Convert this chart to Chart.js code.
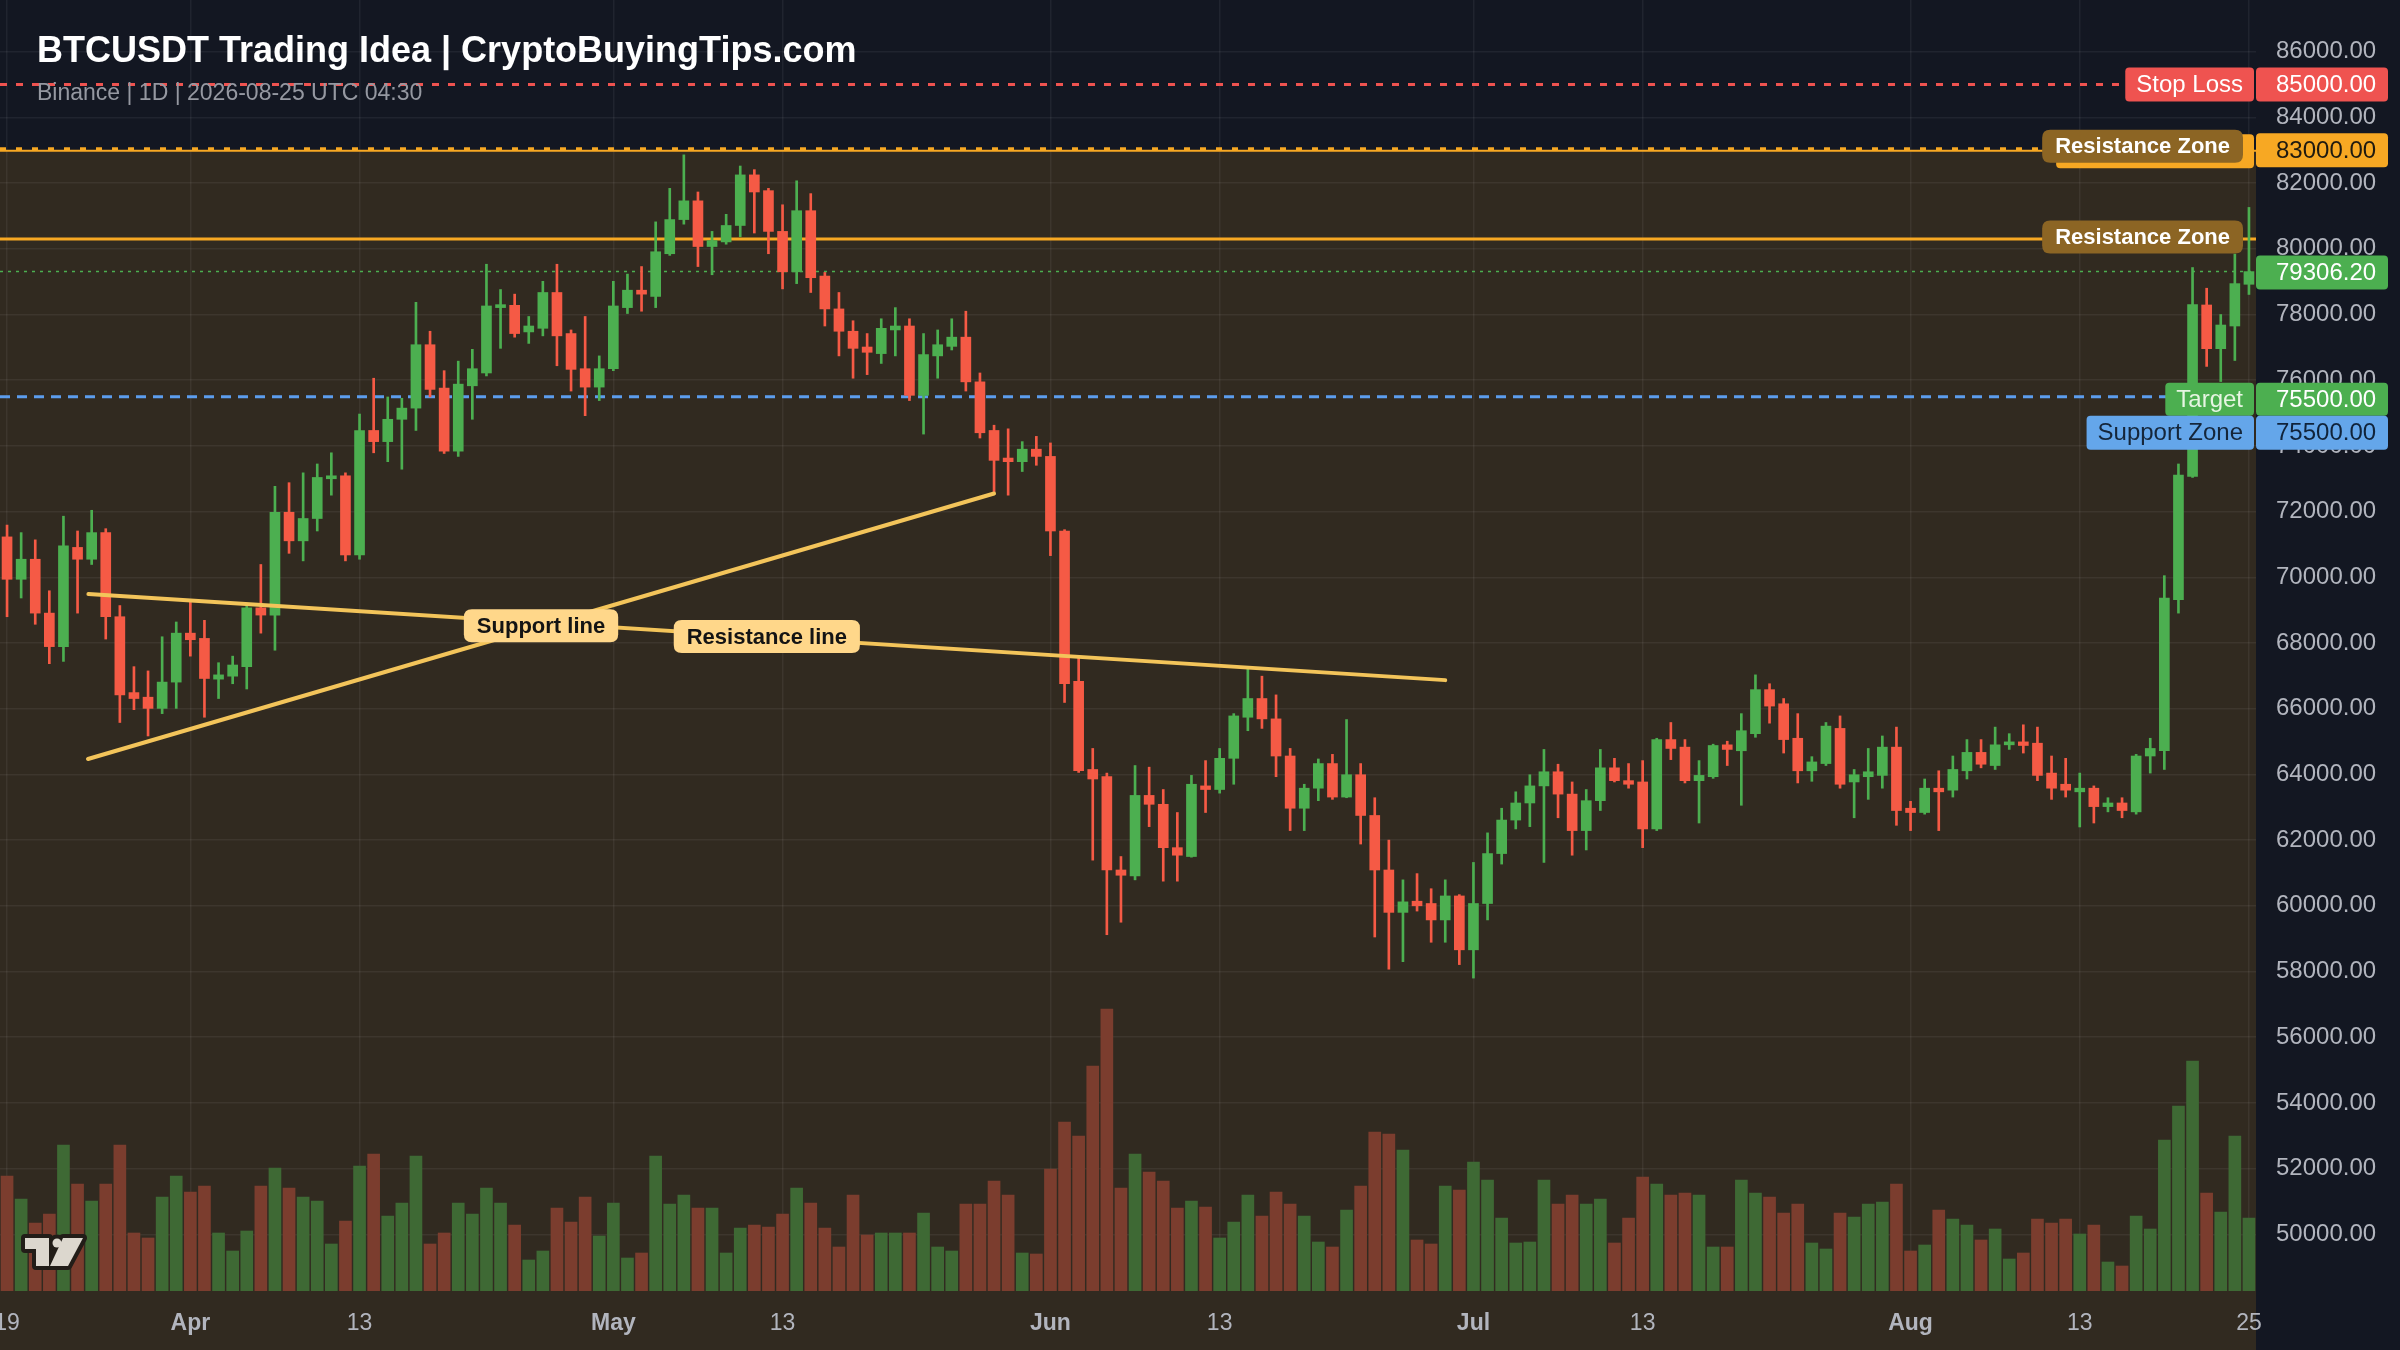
<!DOCTYPE html>
<html>
<head>
<meta charset="utf-8">
<title>BTCUSDT Trading Idea</title>
<script src="https://cdn.jsdelivr.net/npm/chart.js@4.4.1/dist/chart.umd.min.js"></script>
<style>
  html, body { margin: 0; padding: 0; background: #131722; }
  #wrap { width: 2400px; height: 1350px; }
</style>
</head>
<body>
<div id="wrap"><canvas id="btcChart" width="2400" height="1350"></canvas></div>
<script>
// daily BTCUSDT candles, 2026-03-19 .. 2026-08-25
const startDate = '2026-03-19';
const monthNames = ['Jan', 'Feb', 'Mar', 'Apr', 'May', 'Jun', 'Jul', 'Aug', 'Sep', 'Oct', 'Nov', 'Dec'];

const opens = [
    71230, 69940, 70550, 68910, 67890, 70910, 70550, 71360, 68800, 66490,
    66350, 66010, 66810, 68300, 68140, 66900, 66990, 67280, 69070, 68850,
    71980, 71110, 71790, 73000, 73090, 70680, 74470, 74130, 74810, 75150,
    77080, 75760, 73840, 75830, 76220, 78210, 78280, 77470, 77580, 78670,
    77420, 76350, 75790, 76350, 78210, 78740, 78550, 79850, 80890, 81460,
    80070, 80210, 80710, 82250, 81770, 80530, 79300, 81160, 79170, 78170,
    77490, 77010, 76810, 77530, 77650, 75540, 76740, 77030, 77310, 75950,
    74470, 73630, 73520, 73900, 73680, 71410, 66830, 64150, 63930, 61090,
    60910, 63360, 63090, 61770, 61500, 63650, 63540, 64490, 65740, 66310,
    65690, 64560, 62970, 63580, 64330, 63310, 63990, 62750, 61090, 59800,
    60140, 60070, 59570, 60300, 58660, 60070, 61590, 62610, 63130, 63650,
    64080, 63400, 62290, 63200, 64200, 63810, 63770, 62340, 65060, 64830,
    63810, 63930, 64900, 64720, 65240, 66580, 66150, 65100, 64110, 64330,
    65400, 63770, 63930, 63970, 64830, 62970, 62840, 63580, 63520, 64110,
    64670, 64270, 64900, 64990, 64950, 64040, 63700, 63470, 63580, 63020,
    63130, 62860, 64560, 64720, 69320, 73070, 78290, 76960, 77650, 78920
];
const highs = [
    71590, 71360, 71140, 69590, 71860, 71410, 72040, 71480, 69140, 67280,
    67150, 68190, 68640, 69260, 68690, 67400, 67600, 69190, 70390, 72770,
    72880, 73180, 73450, 73790, 73180, 74970, 76060, 75490, 75450, 78370,
    77490, 76290, 76580, 76940, 79530, 78760, 78620, 77940, 79010, 79530,
    77530, 77940, 76740, 79010, 79230, 79460, 80820, 81840, 82860, 81730,
    80530, 81050, 82520, 82410, 81840, 81340, 82070, 81680, 79280, 78670,
    77810, 77420, 77870, 78210, 77870, 77420, 77530, 77870, 78100, 76220,
    74630, 74520, 74130, 74290, 74090, 71450, 67550, 64790, 64040, 61500,
    64270, 64220, 63540, 62840, 63970, 64420, 64790, 65850, 67280, 66990,
    66420, 64790, 63700, 64470, 64610, 65670, 64330, 63290, 62000, 60790,
    60980, 60520, 60790, 60340, 61320, 62220, 62970, 63470, 63990, 64760,
    64310, 63770, 63540, 64760, 64490, 64330, 64420, 65100, 65580, 65060,
    64420, 64920, 65010, 65850, 67030, 66760, 66310, 65850, 64540, 65580,
    65780, 64150, 64790, 65170, 65440, 63180, 63860, 64110, 64560, 65060,
    65060, 65440, 65240, 65510, 65440, 64560, 64490, 64040, 63650, 63290,
    63290, 64610, 65100, 70050, 73450, 79430, 78800, 78000, 79840, 81260
];
const lows = [
    68800, 69370, 68570, 67370, 67440, 68910, 70390, 68120, 65580, 65970,
    65170, 65850, 66010, 67600, 65740, 66310, 66760, 66600, 68300, 67780,
    70730, 70500, 71410, 72500, 70500, 70550, 73790, 73520, 73290, 74470,
    75490, 73770, 73680, 74810, 76130, 76970, 77310, 77120, 77350, 76440,
    75670, 74920, 75380, 76290, 78030, 78100, 78210, 79800, 80750, 79460,
    79210, 80140, 80370, 80480, 79850, 78780, 78940, 78670, 77650, 76740,
    76060, 76170, 76510, 76740, 75380, 74360, 76060, 76920, 75670, 74240,
    72610, 72500, 73220, 73410, 70660, 66190, 64060, 61390, 59120, 59500,
    60790, 62410, 60750, 60750, 61480, 62840, 63430, 63700, 65330, 65400,
    63930, 62290, 62290, 63200, 63240, 63290, 61880, 59050, 58070, 58300,
    59840, 58890, 58890, 58210, 57800, 59570, 61270, 62340, 62410, 61320,
    62680, 61540, 61700, 62900, 63770, 63580, 61770, 62290, 64450, 63740,
    62520, 63880, 64270, 63060, 65130, 65560, 64650, 63740, 63790, 64270,
    63580, 62680, 63240, 63580, 62450, 62290, 62790, 62290, 63310, 63860,
    64200, 64150, 64760, 64650, 63810, 63240, 63310, 62400, 62520, 62860,
    62680, 62790, 64040, 64150, 68910, 73040, 76420, 75960, 76600, 78610
];
const closes = [
    69940, 70550, 68910, 67890, 70960, 70550, 71360, 68800, 66420, 66310,
    66010, 66810, 68300, 68100, 66920, 67030, 67330, 69070, 68850, 71980,
    71110, 71790, 73040, 73090, 70680, 74470, 74130, 74810, 75150, 77080,
    75720, 73840, 75880, 76350, 78260, 78300, 77420, 77650, 78670, 77350,
    76330, 75790, 76350, 78260, 78740, 78620, 79910, 80890, 81460, 80070,
    80250, 80710, 82250, 81730, 80530, 79300, 81160, 79120, 78170, 77490,
    76970, 76850, 77580, 77650, 75540, 76780, 77080, 77310, 75950, 74400,
    73560, 73520, 73900, 73680, 71410, 66760, 64110, 63860, 61090, 60930,
    63360, 63090, 61770, 61540, 63700, 63540, 64490, 65780, 66310, 65690,
    64560, 62970, 63580, 64330, 63310, 63990, 62750, 61090, 59800, 60120,
    60000, 59570, 60300, 58660, 60070, 61590, 62610, 63130, 63650, 64080,
    63400, 62290, 63200, 64200, 63810, 63700, 62340, 65060, 64790, 63810,
    63970, 64880, 64760, 65330, 66580, 66080, 65060, 64110, 64380, 65470,
    63700, 63990, 64080, 64830, 62900, 62840, 63580, 63470, 64150, 64670,
    64310, 64900, 64990, 64880, 63970, 63580, 63520, 63580, 63020, 63130,
    62900, 64560, 64790, 69370, 73110, 78300, 76960, 77680, 78940, 79306.2
];
// volume, relative units
const volumes = [
    115, 92, 68, 77, 146, 107, 90, 107, 146, 58, 53, 94, 115, 99, 105, 58, 40, 60, 105, 123,
    103, 94, 90, 47, 70, 125, 137, 75, 88, 135, 47, 58, 88, 77, 103, 88, 66, 31, 40, 83,
    69, 94, 55, 88, 33, 38, 135, 87, 96, 83, 83, 38, 63, 66, 64, 77, 103, 88, 63, 44,
    96, 56, 58, 58, 58, 78, 44, 40, 87, 87, 110, 96, 38, 37, 122, 169, 155, 225, 282, 103,
    137, 119, 110, 83, 90, 84, 53, 69, 96, 75, 99, 87, 75, 49, 44, 81, 105, 159, 157, 141,
    51, 47, 105, 101, 129, 111, 73, 48, 49, 111, 87, 96, 87, 92, 48, 73, 114, 107, 96, 98,
    96, 44, 44, 111, 98, 94, 78, 87, 48, 42, 78, 74, 87, 89, 107, 40, 46, 81, 72, 66,
    51, 62, 32, 38, 72, 68, 72, 57, 66, 29, 25, 75, 62, 151, 185, 230, 98, 79, 155, 73
];
const volumeAxisMax = 1291;

// trade levels
const stopLoss = 85000;
const resistanceTop = 83000;
const resistanceLow = 80300;
const lastPrice = 79306.2;
const targetPrice = 75500;
const supportZone = 75500;

// drawn trend lines: [candle index, price]
const supportLine = [[5.74, 64470], [70, 72550]];
const resistanceLine = [[5.77, 69490], [102, 66870]];

// axes
const priceTicks = [50000, 52000, 54000, 56000, 58000, 60000, 62000, 64000, 66000, 68000,
    70000, 72000, 74000, 76000, 78000, 80000, 82000, 84000, 86000];
const priceMin = 48274;
const priceMax = 87574;
const xTickIdx = [0, 13, 25, 43, 55, 74, 86, 104, 116, 135, 147, 159];

const dates = [];
for (let i = 0; i < opens.length; i++) {
    const d = new Date(startDate + 'T00:00:00Z');
    d.setUTCDate(d.getUTCDate() + i);
    dates.push(d);
}

function tickLabel(i) {
    const d = dates[i];
    if (!d) return '';
    return d.getUTCDate() === 1 ? monthNames[d.getUTCMonth()] : String(d.getUTCDate());
}

const FONT = '"Liberation Sans", Arial, Helvetica, sans-serif';
const C = {
    navy: '#131722',
    brown: '#312a20',
    grid: 'rgba(255,255,255,0.06)',
    axisText: '#b2b5be',
    green: '#4caf50',
    red: '#f55a45',
    volGreen: '#3e6934',
    volRed: '#7b3d2e',
    stop: '#ef5350',
    orange: '#f7a823',
    gold: '#8c6524',
    blue: '#5c9ded',
    blueTag: '#64a6ea',
    trend: '#f3c45a',
    trendTag: '#ffd78a'
};

function rr(ctx, x, y, w, h, r) {
    ctx.beginPath();
    ctx.moveTo(x + r, y);
    ctx.lineTo(x + w - r, y);
    ctx.quadraticCurveTo(x + w, y, x + w, y + r);
    ctx.lineTo(x + w, y + h - r);
    ctx.quadraticCurveTo(x + w, y + h, x + w - r, y + h);
    ctx.lineTo(x + r, y + h);
    ctx.quadraticCurveTo(x, y + h, x, y + h - r);
    ctx.lineTo(x, y + r);
    ctx.quadraticCurveTo(x, y, x + r, y);
    ctx.closePath();
}

function hline(ctx, x0, x1, y, color, width, dash) {
    ctx.beginPath();
    ctx.setLineDash(dash);
    ctx.strokeStyle = color;
    ctx.lineWidth = width;
    ctx.moveTo(x0, y);
    ctx.lineTo(x1, y);
    ctx.stroke();
    ctx.setLineDash([]);
}

// label box anchored by its right edge
function tag(ctx, text, right, top, h, o) {
    ctx.font = o.font;
    const w = ctx.measureText(text).width + o.pad * 2;
    rr(ctx, right - w, top, w, h, o.radius);
    ctx.fillStyle = o.fill;
    ctx.fill();
    ctx.fillStyle = o.color;
    ctx.textAlign = 'center';
    ctx.textBaseline = 'middle';
    ctx.fillText(text, right - w / 2, top + h / 2 + 1);
    return right - w;
}

function axisBox(ctx, text, left, width, top, h, fill, color) {
    rr(ctx, left, top, width, h, 4);
    ctx.fillStyle = fill;
    ctx.fill();
    ctx.font = '24px ' + FONT;
    ctx.fillStyle = color;
    ctx.textAlign = 'left';
    ctx.textBaseline = 'middle';
    ctx.fillText(text, left + 20, top + h / 2 + 1);
}

function drawLogo(ctx, x, y) {
    ctx.save();
    ctx.translate(x, y);
    const shapes = [
        [[0, 0], [24, 0], [24, 28], [11, 28], [11, 11], [0, 11]],
        [[38, 0], [58, 0], [43, 28], [25, 28]]
    ];
    ctx.lineJoin = 'round';
    ctx.strokeStyle = '#221d18';
    ctx.lineWidth = 8;
    shapes.forEach(s => {
        ctx.beginPath();
        s.forEach((p, k) => k ? ctx.lineTo(p[0], p[1]) : ctx.moveTo(p[0], p[1]));
        ctx.closePath();
        ctx.stroke();
    });
    ctx.beginPath();
    ctx.arc(32, 5, 4.5, 0, Math.PI * 2);
    ctx.stroke();
    ctx.fillStyle = '#dcd7ce';
    shapes.forEach(s => {
        ctx.beginPath();
        s.forEach((p, k) => k ? ctx.lineTo(p[0], p[1]) : ctx.moveTo(p[0], p[1]));
        ctx.closePath();
        ctx.fill();
    });
    ctx.beginPath();
    ctx.arc(32, 5, 4.5, 0, Math.PI * 2);
    ctx.fill();
    ctx.restore();
}

const tradingPlugin = {
    id: 'tradingIdea',
    beforeDraw(chart) {
        const { ctx, chartArea: a, scales: { y } } = chart;
        ctx.save();
        ctx.fillStyle = C.navy;
        ctx.fillRect(0, 0, chart.width, chart.height);
        const zoneTop = y.getPixelForValue(resistanceTop);
        ctx.fillStyle = C.brown;
        ctx.fillRect(0, zoneTop, a.right, chart.height - zoneTop);
        ctx.restore();
    },
    beforeDatasetsDraw(chart) {
        const { ctx, chartArea: a, scales: { y } } = chart;
        ctx.save();
        hline(ctx, a.left, a.right, y.getPixelForValue(stopLoss), C.stop, 3, [7, 9]);
        const yr = y.getPixelForValue(resistanceTop);
        hline(ctx, a.left, a.right, yr + 0.5, C.orange, 2, []);
        hline(ctx, a.left, a.right, yr - 1.5, C.orange, 3, [6, 10]);
        hline(ctx, a.left, a.right, y.getPixelForValue(resistanceLow), C.orange, 3, []);
        hline(ctx, a.left, a.right, y.getPixelForValue(lastPrice), C.green, 1.5, [3, 5]);
        hline(ctx, a.left, a.right, y.getPixelForValue(targetPrice), C.blue, 3, [10, 7]);
        ctx.restore();
    },
    afterDatasetsDraw(chart) {
        const { ctx, chartArea: a, scales: { x, y } } = chart;
        ctx.save();

        // captions on the drawn trend lines
        [[supportLine, 'Support line'], [resistanceLine, 'Resistance line']].forEach(([pts, text]) => {
            const mx = (x.getPixelForValue(pts[0][0]) + x.getPixelForValue(pts[1][0])) / 2;
            const my = (y.getPixelForValue(pts[0][1]) + y.getPixelForValue(pts[1][1])) / 2;
            ctx.font = 'bold 22px ' + FONT;
            const w = ctx.measureText(text).width + 26;
            tag(ctx, text, mx + w / 2, my - 17, 33,
                { font: 'bold 22px ' + FONT, pad: 13, fill: C.trendTag, color: '#141414', radius: 8 });
        });

        const R = a.right - 2;
        const AX = a.right;
        const AW = 132;

        // stop loss
        const ySL = y.getPixelForValue(stopLoss);
        tag(ctx, 'Stop Loss', R, ySL - 17, 34, { font: '24px ' + FONT, pad: 11, fill: C.stop, color: '#ffffff', radius: 4 });

        // upper resistance zone
        const yR1 = y.getPixelForValue(resistanceTop);
        ctx.font = 'bold 22px ' + FONT;
        const rzW = ctx.measureText('Resistance Zone').width + 26;
        rr(ctx, R - 11 - rzW + 14, yR1 - 16, rzW - 3, 34, 4);
        ctx.fillStyle = C.orange;
        ctx.fill();
        tag(ctx, 'Resistance Zone', R - 11, yR1 - 20.5, 33,
            { font: 'bold 22px ' + FONT, pad: 13, fill: C.gold, color: '#ffffff', radius: 8 });

        // lower resistance zone
        const yR2 = y.getPixelForValue(resistanceLow);
        tag(ctx, 'Resistance Zone', R - 11, yR2 - 18.5, 33,
            { font: 'bold 22px ' + FONT, pad: 13, fill: C.gold, color: '#ffffff', radius: 8 });

        // target / support zone
        const yT = y.getPixelForValue(targetPrice) - 14;
        tag(ctx, 'Target', R, yT, 33, { font: '24px ' + FONT, pad: 11, fill: C.green, color: '#e6f5e2', radius: 4 });
        tag(ctx, 'Support Zone', R, yT + 33, 34, { font: '24px ' + FONT, pad: 11, fill: C.blueTag, color: '#15263a', radius: 4 });

        // price boxes on the axis
        axisBox(ctx, stopLoss.toFixed(2), AX, AW, ySL - 17, 34, C.stop, '#ffffff');
        axisBox(ctx, resistanceTop.toFixed(2), AX, AW, yR1 - 17, 34, C.orange, '#1f1a10');
        axisBox(ctx, lastPrice.toFixed(2), AX, AW, y.getPixelForValue(lastPrice) - 16, 34, C.green, '#ffffff');
        axisBox(ctx, targetPrice.toFixed(2), AX, AW, yT, 33, C.green, '#ffffff');
        axisBox(ctx, supportZone.toFixed(2), AX, AW, yT + 33, 34, C.blueTag, '#10233a');

        // header
        ctx.textAlign = 'left';
        ctx.textBaseline = 'alphabetic';
        ctx.fillStyle = '#ffffff';
        ctx.font = 'bold 36px ' + FONT;
        ctx.fillText('BTCUSDT Trading Idea | CryptoBuyingTips.com', 37, 62);
        ctx.fillStyle = '#9598a1';
        ctx.font = '23px ' + FONT;
        ctx.fillText('Binance | 1D | 2026-08-25 UTC 04:30', 37, 100);

        drawLogo(ctx, 25, 1238);
        ctx.restore();
    }
};

const idx = opens.map((_, i) => i);
const isUp = idx.map(i => closes[i] >= opens[i]);
const candleColors = idx.map(i => isUp[i] ? C.green : C.red);
const volumeColors = idx.map(i => isUp[i] ? C.volGreen : C.volRed);

const ctx = document.getElementById('btcChart').getContext('2d');

new Chart(ctx, {
    type: 'bar',
    data: {
        datasets: [
            {
                type: 'line',
                label: 'Support line',
                data: supportLine.map(p => ({ x: p[0], y: p[1] })),
                borderColor: C.trend,
                borderWidth: 4,
                borderCapStyle: 'round',
                pointRadius: 0,
                yAxisID: 'y',
                order: 0
            },
            {
                type: 'line',
                label: 'Resistance line',
                data: resistanceLine.map(p => ({ x: p[0], y: p[1] })),
                borderColor: C.trend,
                borderWidth: 4,
                borderCapStyle: 'round',
                pointRadius: 0,
                yAxisID: 'y',
                order: 0
            },
            {
                label: 'Body',
                data: idx.map(i => ({ x: i, y: [opens[i], closes[i]] })),
                backgroundColor: candleColors,
                barThickness: 10,
                minBarLength: 2,
                grouped: false,
                borderWidth: 0,
                yAxisID: 'y',
                order: 1
            },
            {
                label: 'Wick',
                data: idx.map(i => ({ x: i, y: [lows[i], highs[i]] })),
                backgroundColor: candleColors,
                barThickness: 2,
                grouped: false,
                borderWidth: 0,
                yAxisID: 'y',
                order: 2
            },
            {
                label: 'Volume',
                data: idx.map(i => ({ x: i, y: volumes[i] })),
                backgroundColor: volumeColors,
                barThickness: 12,
                grouped: false,
                borderWidth: 0,
                yAxisID: 'vol',
                order: 3
            }
        ]
    },
    options: {
        responsive: false,
        devicePixelRatio: 1,
        animation: false,
        layout: { padding: 0 },
        plugins: {
            legend: { display: false },
            tooltip: { enabled: false }
        },
        scales: {
            x: {
                type: 'linear',
                min: -0.5,
                max: opens.length - 0.5,
                offset: false,
                border: { display: false },
                grid: { color: C.grid, lineWidth: 1.5, drawTicks: false, offset: false },
                ticks: {
                    autoSkip: false,
                    maxRotation: 0,
                    minRotation: 0,
                    padding: 19,
                    color: C.axisText,
                    font: (c) => ({
                        family: FONT,
                        size: 23,
                        weight: c.tick && dates[c.tick.value] && dates[c.tick.value].getUTCDate() === 1 ? 'bold' : 'normal'
                    }),
                    callback: (value) => tickLabel(value)
                },
                afterBuildTicks: (scale) => {
                    scale.ticks = xTickIdx.map(v => ({ value: v }));
                },
                afterFit: (scale) => {
                    scale.height = 59;
                    scale.paddingLeft = 0;
                    scale.paddingRight = 0;
                }
            },
            y: {
                type: 'linear',
                position: 'right',
                min: priceMin,
                max: priceMax,
                border: { display: false },
                grid: { color: C.grid, lineWidth: 1.5, drawTicks: false, tickLength: 0 },
                ticks: {
                    padding: 20,
                    color: C.axisText,
                    font: { family: FONT, size: 24 },
                    callback: (value) => Number(value).toFixed(2)
                },
                afterBuildTicks: (scale) => {
                    scale.ticks = priceTicks.map(v => ({ value: v }));
                },
                afterFit: (scale) => {
                    scale.width = 144;
                    scale.paddingTop = 0;
                    scale.paddingBottom = 0;
                }
            },
            vol: {
                type: 'linear',
                axis: 'y',
                display: false,
                min: 0,
                max: volumeAxisMax
            }
        }
    },
    plugins: [tradingPlugin]
});
</script>
</body>
</html>
